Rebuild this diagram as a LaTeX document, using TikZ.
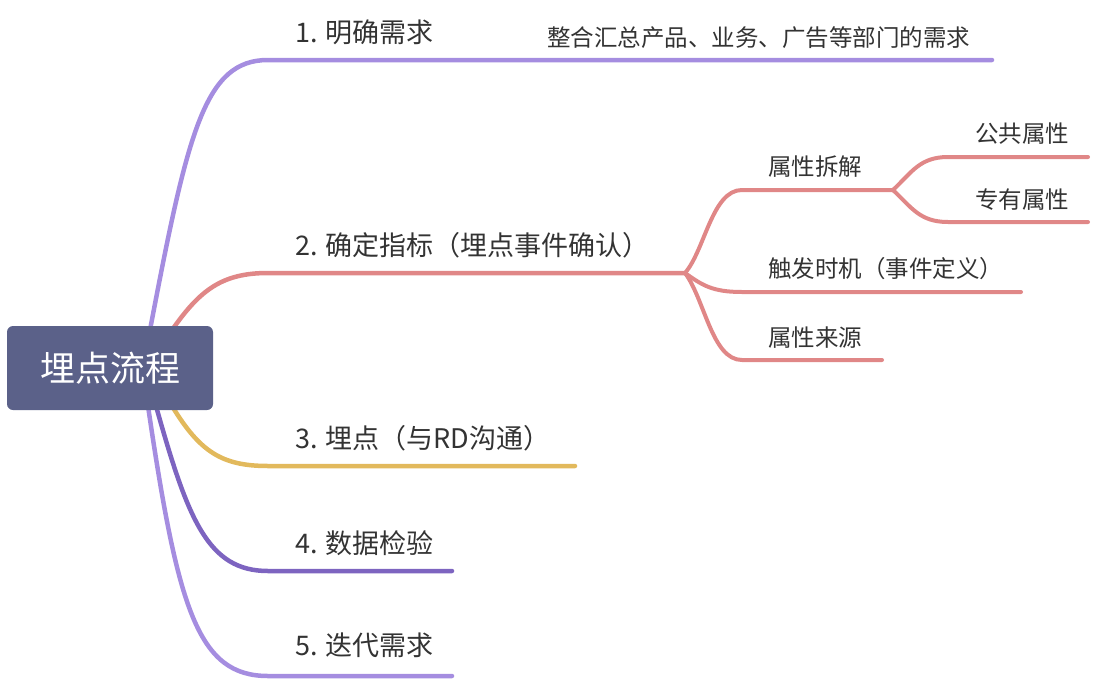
\documentclass[tikz,border=0pt]{standalone}
\usepackage{fontspec}
\newfontfamily\cjk{Noto Sans CJK SC}
\definecolor{rootc}{HTML}{5B6189}
\definecolor{lpur}{HTML}{A58DE0}
\definecolor{dpur}{HTML}{7D64C0}
\definecolor{redc}{HTML}{E08787}
\definecolor{yelc}{HTML}{E2B95C}
\definecolor{txt}{HTML}{333333}
\tikzset{
  mainlbl/.style={anchor=base west, inner sep=0pt, text=txt, font=\cjk\fontsize{27}{31}\selectfont},
  sublbl/.style={anchor=base west, inner sep=0pt, text=txt, font=\cjk\fontsize{23.5}{27}\selectfont},
  branch/.style={line width=4.5pt, line cap=round},
  subbranch/.style={line width=4pt, line cap=round},
  rootbox/.style={fill=rootc, rounded corners=6pt, minimum width=206pt, minimum height=84pt, text=white, font=\cjk\fontsize{35}{40}\selectfont, inner sep=0pt}
}
\begin{document}
\begin{tikzpicture}[x=1pt,y=-1pt]
\useasboundingbox (0,0) rectangle (1094,680);
% coordinates
\coordinate (s1) at (150,330);
\coordinate (s2) at (172,330);
\coordinate (s3) at (172,406);
\coordinate (s4) at (156,406);
\coordinate (s5) at (148,406);
\coordinate (h1) at (268,60);
\coordinate (e1) at (992,60);
\coordinate (h2) at (268,273);
\coordinate (j2) at (685,273);
\coordinate (h3) at (268,466);
\coordinate (e3) at (575,466);
\coordinate (h4) at (268,571);
\coordinate (e4) at (452,571);
\coordinate (h5) at (268,676);
\coordinate (e5) at (452,676);
\coordinate (ha) at (742,190);
\coordinate (ja) at (893,190);
\coordinate (hb) at (742,292);
\coordinate (eb) at (1021,292);
\coordinate (hc) at (742,360);
\coordinate (ec) at (882,360);
\coordinate (hd) at (948,157);
\coordinate (ed) at (1088,157);
\coordinate (he) at (948,222);
\coordinate (ee) at (1088,222);
% main branches
\draw[branch, lpur] (s1) .. controls (188,130) and (205,60) .. (h1) -- (e1);
\draw[branch, redc] (s2) .. controls (200,290) and (222,273) .. (h2) -- (j2);
\draw[branch, yelc] (s3) .. controls (200,452) and (222,466) .. (h3) -- (e3);
\draw[branch, dpur] (s4) .. controls (188,520) and (208,571) .. (h4) -- (e4);
\draw[branch, lpur] (s5) .. controls (178,610) and (198,676) .. (h5) -- (e5);
% sub branches
\draw[subbranch, redc] (j2) .. controls (705,250) and (712,190) .. (ha) -- (ja);
\draw[subbranch, redc] (j2) .. controls (702,285) and (712,292) .. (hb) -- (eb);
\draw[subbranch, redc] (j2) .. controls (705,300) and (712,360) .. (hc) -- (ec);
\draw[subbranch, redc] (ja) .. controls (912,172) and (920,157) .. (hd) -- (ed);
\draw[subbranch, redc] (ja) .. controls (912,208) and (920,222) .. (he) -- (ee);
% root
\node[rootbox] (root) at (110,368) {埋点流程};
% labels
\node[mainlbl] (t1) at (295,42) {1. 明确需求};
\node[sublbl] (t1a) at (547,46) {整合汇总产品、业务、广告等部门的需求};
\node[mainlbl] (t2) at (295,255) {2. 确定指标（埋点事件确认）};
\node[mainlbl] (t3) at (295,448) {3. 埋点（与RD沟通）};
\node[mainlbl] (t4) at (295,553) {4. 数据检验};
\node[mainlbl] (t5) at (295,655) {5. 迭代需求};
\node[sublbl] (ta) at (768,175) {属性拆解};
\node[sublbl] (td) at (975,142) {公共属性};
\node[sublbl] (te) at (975,208) {专有属性};
\node[sublbl] (tb) at (768,277) {触发时机（事件定义）};
\node[sublbl] (tc) at (768,346) {属性来源};
\end{tikzpicture}
\end{document}
